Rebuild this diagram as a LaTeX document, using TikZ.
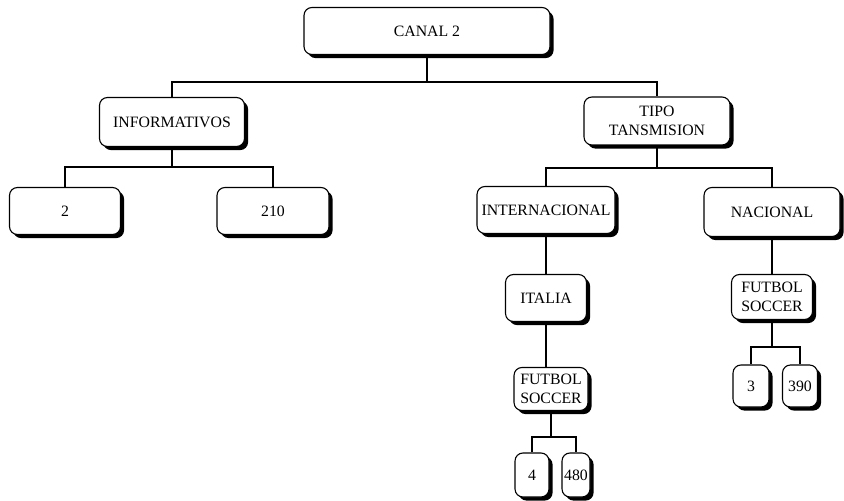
\documentclass[tikz,border=0pt]{standalone}
\usepackage{fontspec}
\setmainfont{Liberation Serif}
\usetikzlibrary{shadows}

\begin{document}
\begin{tikzpicture}[
    x=0.5pt, y=-0.5pt,
    caja/.style={rectangle, rounded corners=4pt, draw=black, fill=white, line width=0.55pt, inner sep=0pt, align=center, font=\fontsize{7.9}{9.8}\selectfont, drop shadow={shadow xshift=1.8pt, shadow yshift=-1.8pt, fill=black, opacity=1}},
    linea/.style={line width=0.55pt, black}
]
    \useasboundingbox (0,0) rectangle (844,501);

    \node (canal) [caja, minimum width=123pt, minimum height=23.5pt] at (427,31) {CANAL 2};
    \node (info) [caja, minimum width=72.5pt, minimum height=24.5pt] at (172,122) {INFORMATIVOS};
    \node (tipo) [caja, minimum width=73pt, minimum height=24pt] at (657,121) {TIPO\\TANSMISION};
    \node (dos) [caja, minimum width=55.5pt, minimum height=23.5pt] at (65,211) {2};
    \node (doscien) [caja, minimum width=56pt, minimum height=23.5pt] at (273,211) {210};
    \node (inter) [caja, minimum width=69pt, minimum height=23.5pt] at (546,210) {INTERNACIONAL};
    \node (nac) [caja, minimum width=68pt, minimum height=24.5pt] at (772,212) {NACIONAL};
    \node (italia) [caja, minimum width=40.5pt, minimum height=23.5pt] at (546,298) {ITALIA};
    \node (futint) [caja, minimum width=37pt, minimum height=21.5pt] at (551,389) {FUTBOL\\SOCCER};
    \node (futnac) [caja, minimum width=40.5pt, minimum height=22.5pt] at (772,297) {FUTBOL\\SOCCER};
    \node (cuatro) [caja, minimum width=17pt, minimum height=22pt] at (532,475) {4};
    \node (cuatroc) [caja, minimum width=14pt, minimum height=22pt] at (576,475) {480};
    \node (tres) [caja, minimum width=18pt, minimum height=21pt] at (751,386) {3};
    \node (tresn) [caja, minimum width=17.5pt, minimum height=21pt] at (800,386) {390};

    % ramas del arbol
    \draw [linea] (canal.south) -- (canal.south |- 0,82);
    \draw [linea] (info.north) -- (info.north |- 0,82) -- (tipo.north |- 0,82) -- (tipo.north);
    \draw [linea] (info.south) -- (info.south |- 0,167);
    \draw [linea] (dos.north) -- (dos.north |- 0,167) -- (doscien.north |- 0,167) -- (doscien.north);
    \draw [linea] (tipo.south) -- (tipo.south |- 0,168);
    \draw [linea] (inter.north) -- (inter.north |- 0,168) -- (nac.north |- 0,168) -- (nac.north);
    \draw [linea] (inter) -- (italia);
    \draw [linea] (italia.south) -- (italia.south |- futint.north);
    \draw [linea] (nac) -- (futnac);
    \draw [linea] (futint.south) -- (futint.south |- 0,437);
    \draw [linea] (cuatro.north) -- (cuatro.north |- 0,437) -- (cuatroc.north |- 0,437) -- (cuatroc.north);
    \draw [linea] (futnac.south) -- (futnac.south |- 0,347);
    \draw [linea] (tres.north) -- (tres.north |- 0,347) -- (tresn.north |- 0,347) -- (tresn.north);
\end{tikzpicture}
\end{document}
